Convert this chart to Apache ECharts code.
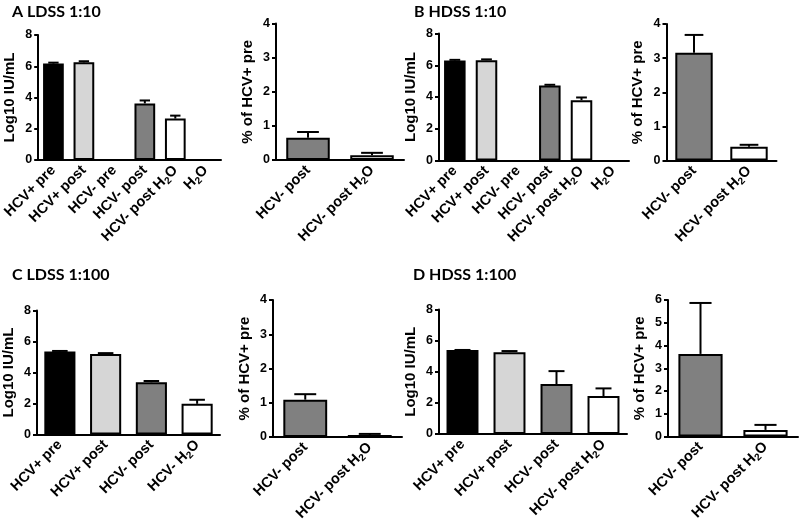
<!DOCTYPE html>
<html><head><meta charset="utf-8">
<script src="https://cdn.jsdelivr.net/npm/echarts@6/dist/echarts.min.js"></script>
<style>html,body{margin:0;padding:0;background:#fff}#c{width:800px;height:532px}</style>
</head><body><div id="c"></div>
<script>
// ---------- data ----------
const catsAB = ['HCV+ pre', 'HCV+ post', 'HCV- pre', 'HCV- post', 'HCV- post H2O', 'H2O'];
const catsPct = ['HCV- post', 'HCV- post H2O'];
const catsC = ['HCV+ pre', 'HCV+ post', 'HCV- post', 'HCV- H2O'];
const catsD = ['HCV+ pre', 'HCV+ post', 'HCV- post', 'HCV- post H2O'];

const valA = [6.17, 6.25, null, 3.62, 2.65, null];
const errA = [0.06, 0.07, null, 0.19, 0.19, null];
const valAPct = [0.65, 0.14];
const errAPct = [0.17, 0.07];

const valB = [6.30, 6.32, null, 4.73, 3.80, null];
const errB = [0.04, 0.05, null, 0.04, 0.17, null];
const valBPct = [3.16, 0.40];
const errBPct = [0.52, 0.06];

const valC = [5.35, 5.20, 3.37, 1.98];
const errC = [0.04, 0.05, 0.08, 0.26];
const valCPct = [1.09, 0.06];
const errCPct = [0.16, 0.03];

const valD = [5.39, 5.26, 3.21, 2.44];
const errD = [0.01, 0.07, 0.83, 0.49];
const valDPct = [3.63, 0.29];
const errDPct = [2.24, 0.22];

const titles = ['A LDSS 1:10', 'B HDSS 1:10', 'C LDSS 1:100', 'D HDSS 1:100'];
const yNameLog = 'Log10 IU/mL';
const yNamePct = '% of HCV+ pre';

// ---------- styles ----------
const fillFor = {
  'HCV+ pre': '#000000',
  'HCV+ post': '#d6d6d6',
  'HCV- post': '#808080'
};
const FONT = 'Liberation Sans';

const panels = [
  {cats: catsAB, val: valA, err: errA, max: 8, step: 2, name: yNameLog, grid: {left: 33, top: 35, width: 188, height: 125}},
  {cats: catsPct, val: valAPct, err: errAPct, max: 4, step: 1, name: yNamePct, grid: {left: 276, top: 23.5, width: 128, height: 136.5}},
  {cats: catsAB, val: valB, err: errB, max: 8, step: 2, name: yNameLog, grid: {left: 439, top: 33.5, width: 190, height: 127}},
  {cats: catsPct, val: valBPct, err: errBPct, max: 4, step: 1, name: yNamePct, grid: {left: 666.5, top: 24, width: 110, height: 136.5}},
  {cats: catsC, val: valC, err: errC, max: 8, step: 2, name: yNameLog, grid: {left: 33, top: 310.5, width: 187, height: 124}},
  {cats: catsPct, val: valCPct, err: errCPct, max: 4, step: 1, name: yNamePct, grid: {left: 273, top: 300, width: 129, height: 137}},
  {cats: catsD, val: valD, err: errD, max: 8, step: 2, name: yNameLog, grid: {left: 439, top: 309.5, width: 188, height: 124.5}},
  {cats: catsPct, val: valDPct, err: errDPct, max: 6, step: 1, name: yNamePct, grid: {left: 668, top: 300, width: 130, height: 136.5}}
];

function fmtCat(s) {
  return s.replace('H2O', 'H{sub|2}O');
}

const grids = [], xAxes = [], yAxes = [], series = [];
panels.forEach((p, i) => {
  grids.push(Object.assign({containLabel: false}, p.grid));
  xAxes.push({
    type: 'category', gridIndex: i, data: p.cats, boundaryGap: true,
    axisLine: {lineStyle: {color: '#000', width: 2}},
    axisTick: {alignWithLabel: true, length: 5, lineStyle: {color: '#000', width: 2}},
    axisLabel: {
      interval: 0, rotate: 45, margin: 8, color: '#000', fontFamily: FONT, fontWeight: 'bold', fontSize: 14.5,
      formatter: v => fmtCat(v),
      rich: {sub: {fontSize: 10, fontWeight: 'bold', fontFamily: FONT, color: '#000', padding: [8, 0, 0, 0]}}
    },
    splitLine: {show: false}
  });
  yAxes.push({
    type: 'value', gridIndex: i, min: 0, max: p.max, interval: p.step,
    name: p.name, nameLocation: 'middle', nameGap: 21,
    nameTextStyle: {color: '#000', fontFamily: FONT, fontWeight: 'bold', fontSize: 15},
    axisLine: {show: true, lineStyle: {color: '#000', width: 2}},
    axisTick: {show: true, length: 4, lineStyle: {color: '#000', width: 2}},
    axisLabel: {margin: 6, color: '#000', fontFamily: FONT, fontWeight: 'bold', fontSize: 12.5},
    splitLine: {show: false}
  });
  series.push({
    type: 'bar', xAxisIndex: i, yAxisIndex: i, barWidth: '68%',
    data: p.val.map((v, k) => ({
      value: v,
      itemStyle: {color: fillFor[p.cats[k]] || '#ffffff', borderColor: '#000', borderWidth: 2}
    })),
    silent: true, animation: false
  });
  series.push({
    type: 'custom', xAxisIndex: i, yAxisIndex: i, z: 5, animation: false, silent: true,
    data: p.val.map((v, k) => [k, v, p.err[k]]).filter(d => d[1] != null),
    renderItem: (params, api) => {
      const x = api.value(0), v = api.value(1), e = api.value(2);
      const p0 = api.coord([x, v]);
      const p1 = api.coord([x, v + e]);
      const bw = api.size([1, 0])[0];
      const cap = bw * 0.17;
      return {
        type: 'group',
        children: [
          {type: 'line', shape: {x1: p0[0], y1: p0[1], x2: p1[0], y2: p1[1]}, style: {stroke: '#000', lineWidth: 2}},
          {type: 'line', shape: {x1: p1[0] - cap, y1: p1[1], x2: p1[0] + cap, y2: p1[1]}, style: {stroke: '#000', lineWidth: 2}}
        ]
      };
    }
  });
});

const titleStyle = {color: '#000', fontFamily: 'Lato', fontWeight: 'bold', fontSize: 16};
const titlePos = [[12, 4], [414, 4], [12, 267], [413, 267]];
const chart = echarts.init(document.getElementById('c'), null, {renderer: 'canvas'});
chart.setOption({
  backgroundColor: '#fff',
  animation: false,
  title: titles.map((t, i) => ({text: t, left: titlePos[i][0], top: titlePos[i][1], padding: 0, textStyle: titleStyle})),
  grid: grids, xAxis: xAxes, yAxis: yAxes, series: series
});
</script></body></html>
